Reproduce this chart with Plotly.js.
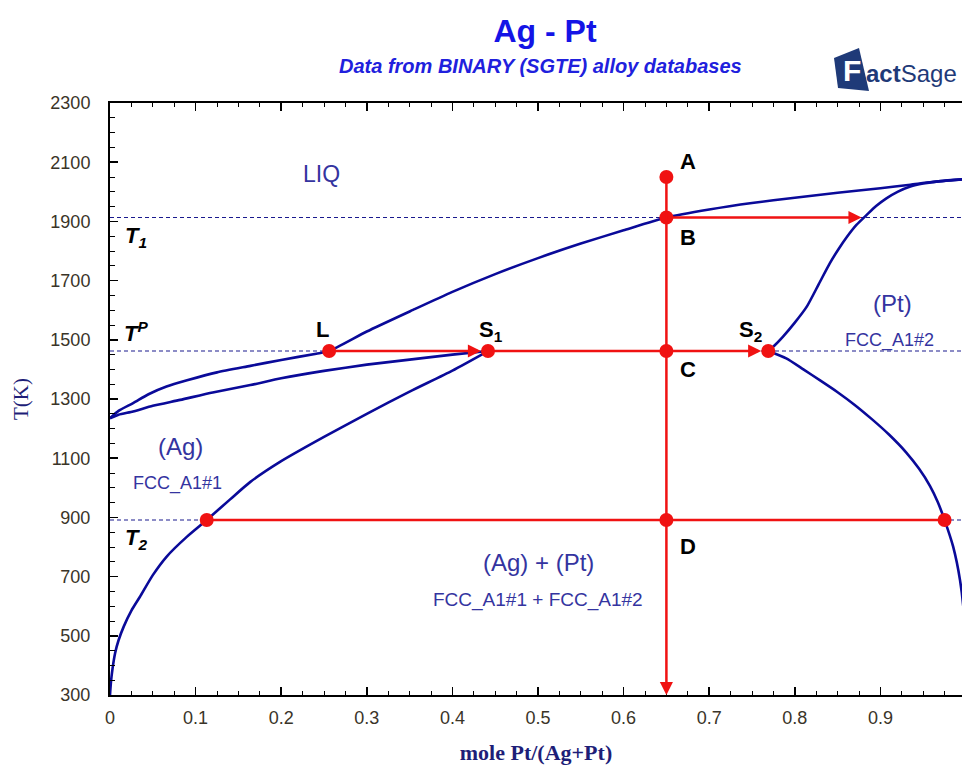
<!DOCTYPE html>
<html><head><meta charset="utf-8">
<script src="https://cdn.plot.ly/plotly-3.0.1.min.js"></script>
<style>html,body{margin:0;padding:0;background:#fff}#chart{width:962px;height:765px}</style>
</head><body><div id="chart"></div>
<script>
// ---- phase boundary data (mole fraction Pt, T in K) ----
const liquidusX = [0, 0.01, 0.027, 0.045, 0.066, 0.09, 0.125, 0.164, 0.2, 0.241, 0.256, 0.3, 0.354, 0.4, 0.45, 0.5, 0.55, 0.6, 0.65, 0.7, 0.75, 0.8, 0.85, 0.9, 0.935, 0.96, 1.0];
const liquidusT = [1235, 1260, 1286, 1316, 1342, 1363, 1390, 1412, 1432, 1453, 1462, 1528, 1601, 1662, 1722, 1776, 1825, 1870, 1913, 1940, 1962, 1980, 1997, 2012, 2024, 2033, 2043];
const solidusAgX = [0, 0.01, 0.027, 0.05, 0.082, 0.12, 0.164, 0.2, 0.25, 0.3, 0.35, 0.4, 0.4416];
const solidusAgT = [1235, 1247, 1258, 1277, 1297, 1322, 1347, 1370, 1395, 1416, 1433, 1450, 1462];
const solidusPtX = [0.769, 0.776, 0.786, 0.8, 0.814, 0.828, 0.841, 0.851, 0.861, 0.872, 0.884, 0.895, 0.907, 0.92, 0.935, 0.95, 0.97, 1.0];
const solidusPtT = [1462, 1480, 1510, 1558, 1612, 1688, 1759, 1806, 1848, 1888, 1922, 1952, 1978, 2000, 2018, 2028, 2036, 2043];
const solvusAgX = [0, 0.001, 0.003, 0.006, 0.01, 0.016, 0.025, 0.035, 0.05, 0.066, 0.09, 0.113, 0.14, 0.164, 0.2, 0.25, 0.3, 0.35, 0.4, 0.4416];
const solvusAgT = [300, 340, 390, 442, 485, 531, 585, 632, 705, 767, 835, 891, 960, 1020, 1090, 1172, 1250, 1325, 1396, 1462];
const solvusPtX = [0.769, 0.79, 0.81, 0.83, 0.85, 0.87, 0.89, 0.91, 0.93, 0.945, 0.958, 0.967, 0.975, 0.985, 0.993, 0.998, 1.0];
const solvusPtT = [1462, 1437, 1400, 1362, 1323, 1280, 1232, 1180, 1120, 1065, 1006, 952, 891, 801, 688, 560, 400];

// ---- reference temperatures and construction points ----
const levelNames = ['T1', 'TP', 'T2'];
const levelT = [1913, 1462, 891];
const pointNames = ['A', 'B', 'C', 'D', 'L', 'S1', 'S2', 'E1', 'E2'];
const pointX = [0.65, 0.65, 0.65, 0.65, 0.256, 0.4416, 0.769, 0.113, 0.975];
const pointT = [2050, 1913, 1462, 891, 1462, 1462, 1462, 891, 891];
const arrowB_endX = 0.878;   // lever arrow from B to the solidus at T1
const axisMinT = 300;

// tick labels
const xTickVals = [0, 0.1, 0.2, 0.3, 0.4, 0.5, 0.6, 0.7, 0.8, 0.9];
const xTickText = ['0', '0.1', '0.2', '0.3', '0.4', '0.5', '0.6', '0.7', '0.8', '0.9'];
const yTickVals = [300, 500, 700, 900, 1100, 1300, 1500, 1700, 1900, 2100, 2300];
const yTickText = yTickVals.map(String);

// ---- helpers ----
const P = n => pointNames.indexOf(n);
const px = n => pointX[P(n)];
const pt = n => pointT[P(n)];

const BLUE = '#0a0a99';
const RED = '#f01212';
const NAVY_TXT = '#3434a0';
const W = 962, H = 765, ML = 110, MR = 0, MT = 103, MB = 70;
const paperX = p => (p - ML) / (W - ML - MR);
const paperY = p => (H - MB - p) / (H - MT - MB);

const traces = [];
// dashed temperature levels
levelT.forEach((t, i) => traces.push({
  x: [0, 1], y: [t, t], mode: 'lines', name: levelNames[i], hoverinfo: 'skip',
  line: {color: '#1a1a8e', width: 1.1, dash: '4px,3px'}
}));
// phase boundaries
[[liquidusX, liquidusT], [solidusAgX, solidusAgT], [solidusPtX, solidusPtT],
 [solvusAgX, solvusAgT], [solvusPtX, solvusPtT]].forEach(([xs, ts]) => traces.push({
  x: xs, y: ts, mode: 'lines', line: {color: BLUE, width: 2.6, shape: 'spline', smoothing: 0.6}, hoverinfo: 'skip'
}));
// plain red segments
traces.push({x: [px('S1'), px('C')], y: [pt('S1'), pt('C')], mode: 'lines', line: {color: RED, width: 2.5}, hoverinfo: 'skip'});
traces.push({x: [px('E1'), px('E2')], y: [pt('E1'), pt('E2')], mode: 'lines', line: {color: RED, width: 2.5}, hoverinfo: 'skip'});
// red points
traces.push({x: pointX, y: pointT, mode: 'markers', marker: {color: RED, size: 14}, hoverinfo: 'skip'});

const arrow = (x0, y0, x1, y1, standoff) => ({
  x: x1, y: y1, ax: x0, ay: y0, xref: 'x', yref: 'y', axref: 'x', ayref: 'y',
  text: '', showarrow: true, arrowhead: 2, arrowsize: 1.05, arrowwidth: 2.5,
  arrowcolor: RED, standoff: standoff || 0, startstandoff: 0
});
const lbl = (x, y, text, size, color) => ({
  x: x, y: y, xref: 'x', yref: 'y', text: text, showarrow: false,
  xanchor: 'center', yanchor: 'middle',
  font: {family: 'Liberation Sans, Arial, sans-serif', size: size, color: color}
});

const annotations = [
  // red construction arrows
  arrow(px('A'), pt('A'), px('A'), axisMinT, 0),
  arrow(px('B'), pt('B'), arrowB_endX, pt('B'), 0),
  arrow(px('L'), pt('L'), px('S1'), pt('S1'), 7),
  arrow(px('C'), pt('C'), px('S2'), pt('S2'), 7),
  // phase labels
  lbl(0.247, 2060, 'LIQ', 23, NAVY_TXT),
  lbl(0.082, 1138, '(Ag)', 24, NAVY_TXT),
  lbl(0.079, 1013, 'FCC_A1#1', 18, NAVY_TXT),
  lbl(0.914, 1624, '(Pt)', 24, NAVY_TXT),
  lbl(0.911, 1499, 'FCC_A1#2', 18, NAVY_TXT),
  lbl(0.501, 746, '(Ag) + (Pt)', 24, NAVY_TXT),
  lbl(0.500, 621, 'FCC_A1#1 + FCC_A1#2', 19, NAVY_TXT),
  // point labels
  lbl(0.675, 2104, '<b>A</b>', 22, '#000'),
  lbl(0.675, 1847, '<b>B</b>', 22, '#000'),
  lbl(0.675, 1398, '<b>C</b>', 22, '#000'),
  lbl(0.675, 803, '<b>D</b>', 22, '#000'),
  lbl(0.2477, 1536, '<b>L</b>', 22, '#000'),
  lbl(0.445, 1530, '<b>S<sub>1</sub></b>', 22, '#000'),
  lbl(0.748, 1530, '<b>S<sub>2</sub></b>', 22, '#000'),
  // temperature labels
  lbl(0.03, 1847, '<b><i>T<sub>1</sub></i></b>', 22, '#000'),
  lbl(0.03, 1528, '<b><i>T<sup>P</sup></i></b>', 22, '#000'),
  lbl(0.03, 826, '<b><i>T<sub>2</sub></i></b>', 22, '#000'),
  // subtitle
  {x: paperX(540), y: paperY(66), xref: 'paper', yref: 'paper', showarrow: false,
   xanchor: 'center', yanchor: 'middle',
   text: '<b><i>Data from BINARY (SGTE) alloy databases</i></b>',
   font: {family: 'Liberation Sans, Arial, sans-serif', size: 20, color: '#2020dd'}},
  // logo
  {x: paperX(852), y: paperY(70), xref: 'paper', yref: 'paper', showarrow: false,
   xanchor: 'center', yanchor: 'middle',
   text: '<b>F</b>', font: {family: 'Liberation Sans, Arial, sans-serif', size: 30, color: '#ffffff'}},
  {x: paperX(864), y: paperY(73), xref: 'paper', yref: 'paper', showarrow: false,
   xanchor: 'left', yanchor: 'middle',
   text: '<b>act</b>Sage', font: {family: 'Liberation Sans, Arial, sans-serif', size: 24, color: '#1f3a78'}}
];

const shapes = [{
  type: 'path', xref: 'paper', yref: 'paper', fillcolor: '#1f3a78', line: {width: 0}, layer: 'above',
  path: `M${paperX(834)},${paperY(58)} L${paperX(859)},${paperY(48)} L${paperX(869)},${paperY(91)} L${paperX(838)},${paperY(88)} Z`
}];

const axisFont = {family: 'Liberation Sans, Arial, sans-serif', size: 18, color: '#3a3428'};
const layout = {
  width: W, height: H,
  margin: {l: ML, r: MR, t: MT, b: MB, pad: 0},
  paper_bgcolor: '#fff', plot_bgcolor: '#fff',
  showlegend: false,
  title: {text: '<b>Ag - Pt</b>', x: 545 / W, xanchor: 'center', y: 1 - 31 / H, yanchor: 'middle',
          font: {family: 'Liberation Sans, Arial, sans-serif', size: 32, color: '#1414e6'}},
  xaxis: {
    range: [0, (W - ML - MR) / 856], tickvals: xTickVals, ticktext: xTickText,
    ticks: 'inside', ticklen: 8, tickwidth: 1.5, tickcolor: '#000',
    minor: {ticks: 'inside', ticklen: 4, dtick: 0.025, tick0: 0, tickcolor: '#000', tickwidth: 1},
    showline: true, linecolor: '#000', linewidth: 2, mirror: 'ticks',
    showgrid: false, zeroline: false, tickfont: axisFont, ticklabelstandoff: 5,
    title: {text: '<b>mole Pt/(Ag+Pt)</b>', standoff: 22,
            font: {family: 'Liberation Serif, Times New Roman, serif', size: 22, color: '#1e1e78'}}
  },
  yaxis: {
    range: [300, 2300], tickvals: yTickVals, ticktext: yTickText,
    ticks: 'inside', ticklen: 8, tickwidth: 1.5, tickcolor: '#000',
    minor: {ticks: 'inside', ticklen: 5, dtick: 50, tick0: 300, tickcolor: '#000', tickwidth: 1},
    showline: true, linecolor: '#000', linewidth: 2, mirror: false,
    showgrid: false, zeroline: false, tickfont: axisFont, ticklabelstandoff: 14,
    title: {text: 'T(K)', standoff: 16,
            font: {family: 'Liberation Serif, Times New Roman, serif', size: 21, color: '#1e1e78'}}
  },
  annotations: annotations,
  shapes: shapes
};

Plotly.newPlot('chart', traces, layout, {staticPlot: true, displayModeBar: false});
</script></body></html>
